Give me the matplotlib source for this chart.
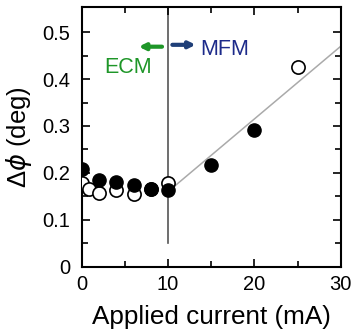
import matplotlib.pyplot as plt

plt.rcParams['font.family'] = ['Liberation Sans', 'DejaVu Sans']

# filled circles
filled_x = [0, 2, 4, 6, 8, 10, 15, 20]
filled_y = [0.208, 0.185, 0.180, 0.174, 0.165, 0.163, 0.217, 0.292]
# open circles
open_x = [0, 0.8, 2, 4, 6, 8, 10, 25]
open_y = [0.178, 0.165, 0.157, 0.164, 0.154, 0.166, 0.178, 0.425]
# gray fit line
fit_x = [10, 30]
fit_y = [0.160, 0.470]

fig = plt.figure(figsize=(3.53, 3.36), dpi=100)
ax = fig.add_axes([0.2314, 0.2063, 0.734, 0.772])

ax.axvline(10, ymin=0.05 / 0.553, ymax=1, color='#555555', lw=1.2, zorder=1)
ax.plot(fit_x, fit_y, color='#aaaaaa', lw=1.1, zorder=1)

ax.plot(open_x, open_y, 'o', ms=9.5, mfc='white', mec='black', mew=1.2, zorder=3)
ax.plot(filled_x, filled_y, 'o', ms=9.5, mfc='black', mec='black', zorder=4)

green = '#1e9628'
navy = '#1c2a8a'
ax.annotate('', xy=(6.6, 0.469), xytext=(9.3, 0.469),
            arrowprops=dict(arrowstyle='-|>', color=green, lw=3, mutation_scale=9,
                            shrinkA=0, shrinkB=0))
ax.annotate('', xy=(13.2, 0.473), xytext=(10.5, 0.473),
            arrowprops=dict(arrowstyle='-|>', color='#1f3f78', lw=3, mutation_scale=9,
                            shrinkA=0, shrinkB=0))
ax.text(13.7, 0.464, 'MFM', color=navy, fontsize=15.5, ha='left', va='center')
ax.text(8.1, 0.424, 'ECM', color=green, fontsize=15.5, ha='right', va='center')

ax.set_xlim(0, 30)
ax.set_ylim(0, 0.553)
ax.set_xticks([0, 10, 20, 30])
ax.set_xticks([5, 15, 25], minor=True)
ax.set_yticks([0, 0.1, 0.2, 0.3, 0.4, 0.5])
ax.set_yticklabels(['0', '0.1', '0.2', '0.3', '0.4', '0.5'])
ax.set_yticks([0.05, 0.15, 0.25, 0.35, 0.45], minor=True)
ax.tick_params(which='both', direction='in', top=True, right=True, labelsize=14.5, width=1.2)
ax.tick_params(which='major', length=6)
ax.tick_params(axis='y', which='major', pad=8)
ax.tick_params(axis='x', which='major', pad=6)
ax.tick_params(which='minor', length=4)
for s in ax.spines.values():
    s.set_linewidth(1.5)

ax.set_xlabel('Applied current (mA)', fontsize=18.8, labelpad=8)
ax.set_ylabel('Δ$\\phi$ (deg)', fontsize=18.5, labelpad=6)

fig.savefig('out.png', dpi=100)
